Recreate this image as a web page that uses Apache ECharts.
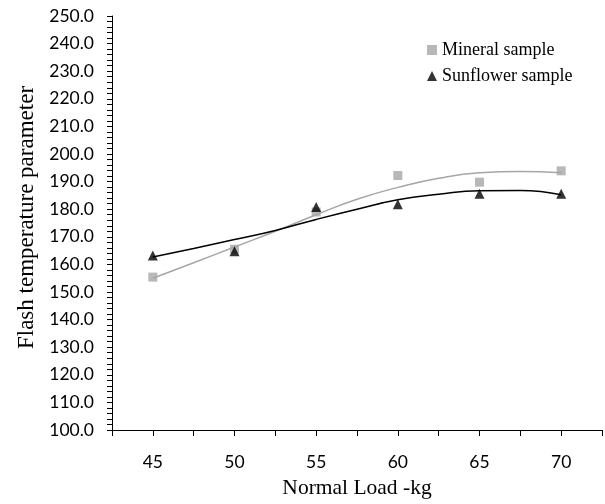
<!DOCTYPE html>
<html>
<head>
<meta charset="utf-8">
<script src="https://cdn.jsdelivr.net/npm/echarts@6/dist/echarts.min.js"></script>
<style>
  html, body { margin: 0; padding: 0; background: #fff; }
  #chart { width: 605px; height: 504px; }
</style>
</head>
<body>
<div id="chart"></div>
<script>
// measured points
const loads = [45, 50, 55, 60, 65, 70]
const mineral = [155.4, 165.5, 179.0, 192.2, 189.8, 193.9]
const sunflower = [163.2, 164.8, 180.8, 181.8, 185.6, 185.6]

// trend curves (every 2.5 kg)
const trendLoads = [45, 47.5, 50, 52.5, 55, 57.5, 60, 62.5, 65, 67.5, 70]
const mineralTrend = [155.0, 160.6, 166.3, 172.0, 178.0, 183.6, 187.9, 191.2, 193.2, 193.7, 193.2]
const sunflowerTrend = [162.7, 165.8, 169.0, 172.3, 176.3, 180.0, 183.4, 185.4, 186.7, 186.8, 185.2]

const yTicks = { min: 100, max: 250, step: 10 }

const pairs = (xs, ys) => xs.map((x, i) => [x, ys[i]])

const GRAY = '#a6a6a6'
const BLACK = '#000000'
const labelFont = { fontFamily: 'Lato', fontSize: 17.5, color: '#000' }
const serif = 'Liberation Serif'

const chart = echarts.init(document.getElementById('chart'), null, { renderer: 'canvas' })

const option = {
  animation: false,
  backgroundColor: '#fff',
  grid: { left: 112, right: 2, top: 16, bottom: 71, containLabel: false },
  legend: {
    orient: 'vertical',
    left: 422,
    top: 36,
    itemWidth: 10,
    itemHeight: 10,
    itemGap: 8,
    textStyle: { fontFamily: serif, fontSize: 18, color: '#000' },
    data: [
      { name: 'Mineral sample', icon: 'rect' },
      { name: 'Sunflower sample', icon: 'triangle' }
    ]
  },
  xAxis: {
    type: 'value',
    min: 42.5,
    max: 72.5,
    interval: 2.5,
    name: 'Normal Load -kg',
    nameLocation: 'middle',
    nameGap: 47,
    nameTextStyle: { fontFamily: serif, fontSize: 21.5, color: '#000' },
    axisLine: { lineStyle: { color: BLACK, width: 1 } },
    axisTick: { show: true, inside: false, length: 6, lineStyle: { color: BLACK } },
    splitLine: { show: false },
    axisLabel: Object.assign({
      margin: 23,
      formatter: v => (v % 5 === 0 && v >= 45 && v <= 70) ? String(v) : ''
    }, labelFont)
  },
  yAxis: {
    type: 'value',
    min: yTicks.min,
    max: yTicks.max,
    interval: yTicks.step,
    name: 'Flash temperature parameter',
    nameLocation: 'middle',
    nameGap: 70,
    nameTextStyle: { fontFamily: serif, fontSize: 23, color: '#000', padding: [0, 0, 0, 11] },
    axisLine: { show: true, lineStyle: { color: BLACK, width: 1 } },
    axisTick: { show: true, inside: false, length: 5, lineStyle: { color: BLACK } },
    minorTick: { show: true, splitNumber: 5, length: 5, lineStyle: { color: BLACK } },
    splitLine: { show: false },
    axisLabel: Object.assign({
      margin: 18,
      formatter: v => v.toFixed(1)
    }, labelFont)
  },
  series: [
    {
      name: 'mineral trend',
      type: 'line',
      data: pairs(trendLoads, mineralTrend),
      smooth: true,
      showSymbol: false,
      silent: true,
      lineStyle: { color: GRAY, width: 1.5 },
      z: 2
    },
    {
      name: 'sunflower trend',
      type: 'line',
      data: pairs(trendLoads, sunflowerTrend),
      smooth: true,
      showSymbol: false,
      silent: true,
      lineStyle: { color: BLACK, width: 1.5 },
      z: 2
    },
    {
      name: 'Mineral sample',
      type: 'scatter',
      data: pairs(loads, mineral),
      symbol: 'rect',
      symbolSize: 9,
      itemStyle: { color: GRAY },
      z: 3
    },
    {
      name: 'Sunflower sample',
      type: 'scatter',
      data: pairs(loads, sunflower),
      symbol: 'triangle',
      symbolSize: 10,
      itemStyle: { color: BLACK },
      z: 4
    }
  ]
}

chart.setOption(option)
</script>
</body>
</html>
